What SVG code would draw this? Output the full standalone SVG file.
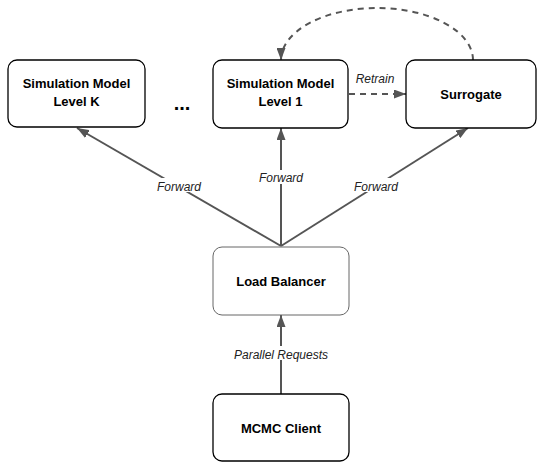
<svg xmlns="http://www.w3.org/2000/svg" width="537" height="462" viewBox="0 0 537 462">
<style>
.box{fill:#fff;stroke:#000;stroke-width:1.3}
.boxg{fill:#fff;stroke:#666;stroke-width:1}
.t{font-family:"Liberation Sans",Arial,sans-serif;font-weight:bold;font-size:13px;fill:#000;text-anchor:middle}
.l{font-family:"Liberation Sans",Arial,sans-serif;font-style:italic;font-size:12px;fill:#222;text-anchor:middle}
.c{stroke:#555;stroke-width:2;fill:none}
.d{stroke:#555;stroke-width:2;fill:none;stroke-dasharray:6 5}
.bg{fill:#fff}
</style>
<defs>
<marker id="ah" viewBox="0 0 12 9" refX="12" refY="4.5" markerWidth="12" markerHeight="9" orient="auto" markerUnits="userSpaceOnUse">
<path d="M0,0 L12,4.5 L0,9 z" fill="#555"/>
</marker>
</defs>
<g id="connectors">
<line class="c" x1="281" y1="246" x2="77" y2="128" marker-end="url(#ah)"/>
<line class="c" x1="281" y1="246" x2="281" y2="128" marker-end="url(#ah)"/>
<line class="c" x1="281" y1="246" x2="468" y2="128" marker-end="url(#ah)"/>
<line class="c" x1="281" y1="394" x2="281" y2="315" marker-end="url(#ah)"/>
<line class="d" x1="349" y1="94" x2="406" y2="94" marker-end="url(#ah)"/>
<path class="d" d="M473,60 A96,52 0 0 0 281,60" marker-end="url(#ah)"/>
<rect class="bg" x="154" y="178" width="50" height="14"/>
<text class="l" x="179" y="191">Forward</text>
<rect class="bg" x="256" y="170" width="50" height="14"/>
<text class="l" x="281" y="182">Forward</text>
<rect class="bg" x="351" y="178" width="50" height="14"/>
<text class="l" x="376" y="191">Forward</text>
<rect class="bg" x="232" y="346" width="98" height="14"/>
<text class="l" x="281" y="359">Parallel Requests</text>
<text class="l" x="375" y="83">Retrain</text>
</g>
<g id="node-k">
<rect class="box" x="8" y="60" width="137" height="67" rx="9"/>
<text class="t" x="76.5" y="88">Simulation Model</text>
<text class="t" x="76.5" y="106">Level K</text>
</g>
<g id="node-dots">
<text class="t" x="182" y="110" style="font-size:20px">...</text>
</g>
<g id="node-1">
<rect class="box" x="213" y="60" width="135" height="68" rx="9"/>
<text class="t" x="280.5" y="88">Simulation Model</text>
<text class="t" x="280.5" y="106">Level 1</text>
</g>
<g id="node-surrogate">
<rect class="box" x="406" y="60" width="130" height="68" rx="9"/>
<text class="t" x="471" y="99">Surrogate</text>
</g>
<g id="node-lb">
<rect class="boxg" x="213" y="247" width="136" height="68" rx="9"/>
<text class="t" x="281" y="286">Load Balancer</text>
</g>
<g id="node-mcmc">
<rect class="box" x="213" y="394" width="136" height="67" rx="9"/>
<text class="t" x="281" y="433">MCMC Client</text>
</g>
</svg>
